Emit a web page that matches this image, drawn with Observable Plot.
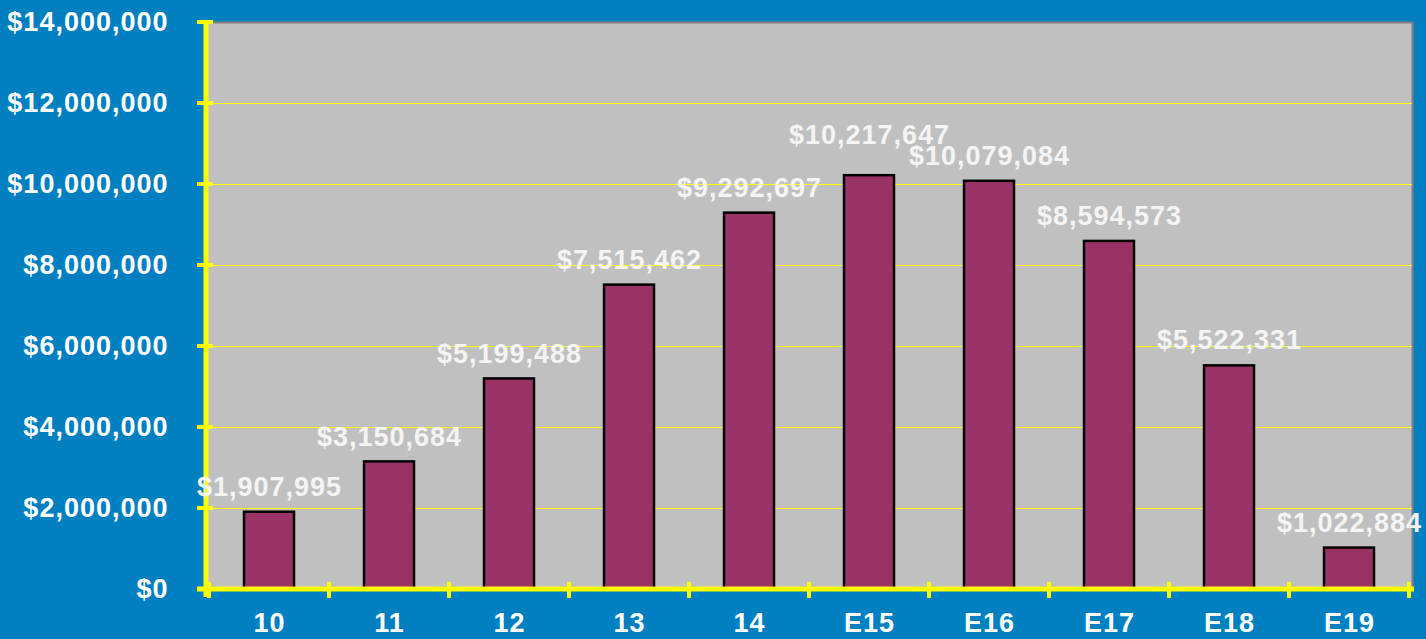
<!DOCTYPE html>
<html><head><meta charset="utf-8">
<script src="https://cdn.jsdelivr.net/npm/d3@7"></script>
<script src="https://cdn.jsdelivr.net/npm/@observablehq/plot@0.6"></script>
<style>html,body{margin:0;padding:0;background:#0080C0;overflow:hidden;}</style>
</head><body><div id="chart"></div>
<script>
const categories = ["10","11","12","13","14","E15","E16","E17","E18","E19"];
const values = [1907995,3150684,5199488,7515462,9292697,10217647,10079084,8594573,5522331,1022884];
const yTicks = [0,2000000,4000000,6000000,8000000,10000000,12000000,14000000];
const gridTicks = [2000000,4000000,6000000,8000000,10000000,12000000];

const fmt = d3.format("$,.0f");
// a label is lifted when its neighbour's bar is nearly as tall (labels would collide)
const data = categories.map((c, i) => {
  const prev = i > 0 ? values[i - 1] : -Infinity;
  const next = i < values.length - 1 ? values[i + 1] : -Infinity;
  const lifted = (Math.abs(values[i] - next) < 800000 && values[i] > next) ||
                 (Math.abs(values[i] - prev) < 800000 && values[i] > prev);
  return {category: c, value: values[i], lifted};
});

function yellowGrid(index, scales, vals, dims) {
  const {y} = scales;
  const left = dims.marginLeft;
  const right = dims.width - dims.marginRight;
  const g = d3.create("svg:g").attr("stroke", "#FFFF00").attr("stroke-width", 1);
  for (const t of gridTicks) {
    const py = Math.round(y(t)) + 0.5;
    g.append("line").attr("x1", left).attr("x2", right).attr("y1", py).attr("y2", py);
  }
  return g.node();
}

function yellowAxes(index, scales, vals, dims) {
  const {x, y} = scales;
  const left = dims.marginLeft;
  const right = dims.width - dims.marginRight;
  const top = dims.marginTop;
  const bottom = dims.height - dims.marginBottom;
  const g = d3.create("svg:g").attr("stroke", "#FFFF00").attr("stroke-width", 4);
  g.append("line").attr("x1", left).attr("x2", left).attr("y1", top).attr("y2", bottom + 8).attr("stroke-width", 5);
  g.append("line").attr("x1", left - 9).attr("x2", right + 2).attr("y1", y(0)).attr("y2", y(0)).attr("stroke-width", 5);
  for (const t of yTicks) {
    g.append("line").attr("x1", left - 9).attr("x2", left + 7).attr("y1", y(t)).attr("y2", y(t));
  }
  const edges = categories.map(c => x(c)).concat([x(categories[categories.length - 1]) + x.bandwidth()]);
  for (const e of edges) {
    g.append("line").attr("x1", e).attr("x2", e).attr("y1", y(0) - 7).attr("y2", y(0) + 9);
  }
  return g.node();
}

const textStyle = {fill: "#F4F4F4", fontSize: 27, fontWeight: "bold", lineAnchor: "middle", textAnchor: "middle"};

const chart = Plot.plot({
  width: 1426,
  height: 639,
  marginLeft: 206,
  marginRight: 14,
  marginTop: 22,
  marginBottom: 50,
  style: {background: "#0080C0", fontFamily: "'Liberation Sans', Arial, sans-serif", letterSpacing: "1px"},
  x: {domain: categories, padding: 0, label: null},
  y: {domain: [0, 14000000], label: null},
  marks: [
    Plot.frame({fill: "#C0C0C0", stroke: "#808080", strokeWidth: 2}),
    yellowGrid,
    Plot.barY(data, {x: "category", y: "value", fill: "#993366", stroke: "#000000", strokeWidth: 2.5, insetLeft: 35, insetRight: 35}),
    yellowAxes,
    Plot.text(data.filter(d => !d.lifted), {x: "category", y: "value", text: d => fmt(d.value), dy: -25, ...textStyle}),
    Plot.text(data.filter(d => d.lifted), {x: "category", y: "value", text: d => fmt(d.value), dy: -40, ...textStyle}),
    Plot.axisY({ticks: yTicks, tickSize: 0, tickPadding: 38, tickFormat: fmt, fill: "white", fontSize: 27, fontWeight: "bold", label: null}),
    Plot.axisX({tickSize: 0, tickPadding: 23, fill: "white", fontSize: 27, fontWeight: "bold", label: null})
  ]
});
document.getElementById("chart").appendChild(chart);
</script>
</body></html>
